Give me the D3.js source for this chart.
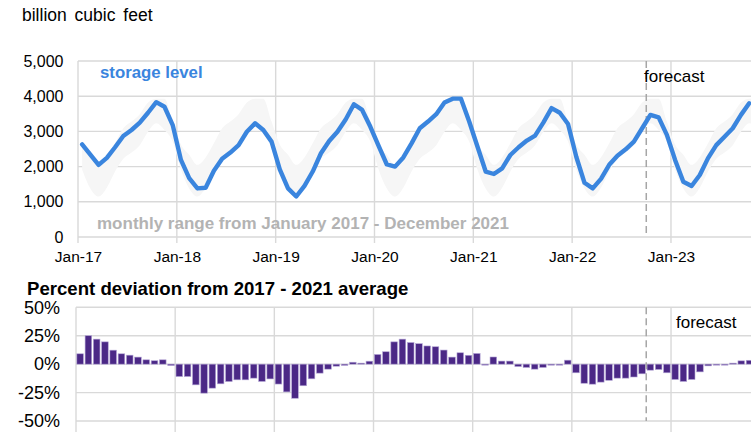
<!DOCTYPE html>
<html>
<head>
<meta charset="utf-8">
<script src="https://cdn.jsdelivr.net/npm/d3@7"></script>
<style>
  body { margin: 0; background: #fff; }
  svg { display: block; font-family: "Liberation Sans", Arial, sans-serif; }
</style>
</head>
<body>
<div id="chart"></div>
<script>
// Month-end working gas storage, billion cubic feet (Jan-17 .. Oct-23)
var storage2017 = [2630, 2340, 2050, 2250, 2550, 2870, 3040, 3250, 3530, 3830, 3700, 3180];
var storage2018 = [2190, 1670, 1380, 1400, 1880, 2220, 2400, 2610, 2990, 3230, 3040, 2710];
var storage2019 = [1920, 1380, 1150, 1450, 1860, 2380, 2730, 2990, 3340, 3770, 3610, 3130];
var storage2020 = [2590, 2060, 2000, 2260, 2660, 3090, 3280, 3490, 3820, 3930, 3930, 3280];
var storage2021 = [2570, 1860, 1790, 1950, 2330, 2550, 2740, 2880, 3250, 3660, 3530, 3210];
var storage2022 = [2280, 1540, 1380, 1650, 2050, 2310, 2490, 2710, 3090, 3470, 3400, 2900];
var storage2023 = [2190, 1570, 1450, 1760, 2240, 2610, 2850, 3090, 3470, 3800];

// Monthly range Jan 2017 - Dec 2021 (Jan..Dec)
var rangeLow  = [1920, 1380, 1150, 1400, 1860, 2220, 2400, 2610, 2990, 3230, 3040, 2710];
var rangeHigh = [2630, 2340, 2050, 2260, 2660, 3090, 3280, 3490, 3820, 3930, 3930, 3280];

// Percent deviation from 2017-2021 average
var dev2017 = [9.1, 25, 22, 19.6, 12.3, 9.1, 7.9, 6.2, 3.8, 3, 3.8, -1.2];
var dev2018 = [-10.9, -10.9, -18.2, -25.5, -21.1, -17.3, -15.3, -13.8, -13.8, -12.3, -15.2, -13];
var dev2019 = [-17.5, -24.4, -30, -19, -12.9, -7.9, -4.4, -1.8, -1.1, 1.7, 0.9, 2.6];
var dev2020 = [8.5, 10.9, 19.6, 22, 19, 18, 16, 15.3, 12.4, 6.2, 10, 7.8];
var dev2021 = [9.4, -0.5, 6.3, 2.7, 2.7, -2.1, -2.9, -4.4, -2.9, -0.9, -0.9, 3.5];
var dev2022 = [-7.6, -16.8, -17.6, -15.8, -14.2, -12.3, -12.3, -11.3, -8.5, -5.3, -4.7, -7.6];
var dev2023 = [-13.5, -15.2, -13.5, -6.8, -1.5, -0.3, -0.2, 0.9, 2.9, 3.4];

var xTickLabels = ["Jan-17", "Jan-18", "Jan-19", "Jan-20", "Jan-21", "Jan-22", "Jan-23"];
var storageTicks = [0, 1000, 2000, 3000, 4000, 5000];
var devTicks = [-50, -25, 0, 25, 50];
var forecastMonth = 69; // Oct-22

var storage = [].concat(storage2017, storage2018, storage2019, storage2020, storage2021, storage2022, storage2023);
var deviation = [].concat(dev2017, dev2018, dev2019, dev2020, dev2021, dev2022, dev2023);
var nMonths = 84;

var W = 751, H = 432;
var gridColor = "#d9d9d9";
var lineColor = "#3a85de";
var barColor = "#4b2886";

var svg = d3.select("#chart").append("svg")
    .attr("width", W)
    .attr("height", H);

svg.append("rect").attr("width", W).attr("height", H).attr("fill", "#fff");

// ---------- top panel: storage level ----------
var upper = { left: 78, top: 61, bottom: 237, yearW: 98.83 };

var xTop = d3.scaleLinear()
    .domain([0, nMonths])
    .range([upper.left, upper.left + 7 * upper.yearW]);

var yTop = d3.scaleLinear()
    .domain([0, 5000])
    .range([upper.bottom, upper.top]);

svg.append("text")
    .attr("x", 22).attr("y", 20.5)
    .style("font-size", "17.5px")
    .style("word-spacing", "3px")
    .text("billion cubic feet");

var gTop = svg.append("g");

gTop.selectAll(".hgrid")
    .data(storageTicks)
    .enter().append("line")
    .attr("x1", upper.left).attr("x2", W)
    .attr("y1", d => yTop(d)).attr("y2", d => yTop(d))
    .attr("stroke", gridColor).attr("stroke-width", 1.4);

gTop.selectAll(".vgrid")
    .data(xTickLabels)
    .enter().append("line")
    .attr("x1", (d, i) => xTop(i * 12)).attr("x2", (d, i) => xTop(i * 12))
    .attr("y1", upper.top).attr("y2", upper.bottom + 6)
    .attr("stroke", gridColor).attr("stroke-width", 1.4);

var yAxisTop = d3.axisLeft(yTop)
    .tickValues(storageTicks)
    .tickFormat(d3.format(","))
    .tickSize(0)
    .tickPadding(14.5);

gTop.append("g")
    .attr("transform", "translate(" + upper.left + ",0)")
    .call(yAxisTop)
    .call(g => g.select(".domain").remove())
    .selectAll("text")
    .style("font-size", "16px")
    .style("font-family", "Liberation Sans, Arial, sans-serif")
    .attr("fill", "#000");

var xAxisTop = d3.axisBottom(xTop)
    .tickValues(d3.range(xTickLabels.length).map(i => i * 12))
    .tickFormat((d, i) => xTickLabels[i])
    .tickSize(0)
    .tickPadding(14);

gTop.append("g")
    .attr("transform", "translate(0," + upper.bottom + ")")
    .call(xAxisTop)
    .call(g => g.select(".domain").remove())
    .selectAll("text")
    .style("font-size", "15.5px")
    .style("font-family", "Liberation Sans, Arial, sans-serif")
    .attr("fill", "#000");

// monthly range band
var band = d3.area()
    .x((d, i) => xTop(i + 0.5))
    .y0((d, i) => yTop(rangeLow[i % 12]))
    .y1((d, i) => yTop(rangeHigh[i % 12]))
    .curve(d3.curveMonotoneX);

gTop.append("path")
    .datum(d3.range(nMonths))
    .attr("d", band)
    .attr("fill", "#f6f6f6");

svg.append("text")
    .attr("x", 97).attr("y", 229)
    .style("font-size", "17px")
    .style("font-weight", "bold")
    .attr("fill", "#b3b3b3")
    .text("monthly range from January 2017 - December 2021");

// forecast divider
gTop.append("line")
    .attr("x1", xTop(forecastMonth)).attr("x2", xTop(forecastMonth))
    .attr("y1", upper.top).attr("y2", upper.bottom)
    .attr("stroke", "#a6a6a6").attr("stroke-width", 1.5)
    .attr("stroke-dasharray", "7,4");

var line = d3.line()
    .x((d, i) => xTop(i + 0.5))
    .y(d => yTop(d));

gTop.append("path")
    .datum(storage)
    .attr("d", line)
    .attr("fill", "none")
    .attr("stroke", lineColor)
    .attr("stroke-width", 4.4)
    .attr("stroke-linejoin", "round")
    .attr("stroke-linecap", "round");

svg.append("text")
    .attr("x", 100).attr("y", 78)
    .style("font-size", "16.8px")
    .style("font-weight", "bold")
    .attr("fill", lineColor)
    .text("storage level");

svg.append("text")
    .attr("x", 644).attr("y", 82)
    .style("font-size", "17px")
    .attr("fill", "#000")
    .text("forecast");

// ---------- bottom panel: percent deviation ----------
var lower = { left: 76, top: 307.3, bottom: 421, yearW: 99.17 };

var xBot = d3.scaleLinear()
    .domain([0, nMonths])
    .range([lower.left, lower.left + 7 * lower.yearW]);

var xBand = d3.scaleBand()
    .domain(d3.range(nMonths))
    .range([lower.left, lower.left + 7 * lower.yearW])
    .paddingInner(0.2)
    .paddingOuter(0.1);

var yBot = d3.scaleLinear()
    .domain([-50, 50])
    .range([lower.bottom, lower.top]);

svg.append("text")
    .attr("x", 27).attr("y", 295)
    .style("font-size", "18.6px")
    .style("font-weight", "bold")
    .attr("fill", "#000")
    .text("Percent deviation from 2017 - 2021 average");

var gBot = svg.append("g");

gBot.selectAll(".hgrid")
    .data(devTicks)
    .enter().append("line")
    .attr("x1", lower.left).attr("x2", W)
    .attr("y1", d => yBot(d)).attr("y2", d => yBot(d))
    .attr("stroke", gridColor).attr("stroke-width", 1.4);

gBot.selectAll(".vgrid")
    .data(xTickLabels)
    .enter().append("line")
    .attr("x1", (d, i) => xBot(i * 12)).attr("x2", (d, i) => xBot(i * 12))
    .attr("y1", lower.top).attr("y2", lower.bottom + 11)
    .attr("stroke", gridColor).attr("stroke-width", 1.4);

var yAxisBot = d3.axisLeft(yBot)
    .tickValues(devTicks)
    .tickFormat(d => d + "%")
    .tickSize(0)
    .tickPadding(16);

gBot.append("g")
    .attr("transform", "translate(" + lower.left + ",0)")
    .call(yAxisBot)
    .call(g => g.select(".domain").remove())
    .selectAll("text")
    .style("font-size", "18px")
    .style("font-family", "Liberation Sans, Arial, sans-serif")
    .attr("fill", "#000");

gBot.selectAll(".bar")
    .data(deviation)
    .enter().append("rect")
    .attr("class", "bar")
    .attr("x", (d, i) => xBand(i))
    .attr("width", xBand.bandwidth())
    .attr("y", d => yBot(Math.max(0, d)))
    .attr("height", d => Math.max(1, Math.abs(yBot(d) - yBot(0))))
    .attr("fill", barColor)
    .attr("stroke", "#b3a5d6")
    .attr("stroke-width", 0.6);

gBot.append("line")
    .attr("x1", xBot(forecastMonth)).attr("x2", xBot(forecastMonth))
    .attr("y1", lower.top).attr("y2", lower.bottom)
    .attr("stroke", "#a6a6a6").attr("stroke-width", 1.5)
    .attr("stroke-dasharray", "7,4");

svg.append("text")
    .attr("x", 676).attr("y", 328)
    .style("font-size", "17px")
    .attr("fill", "#000")
    .text("forecast");
</script>
</body>
</html>
